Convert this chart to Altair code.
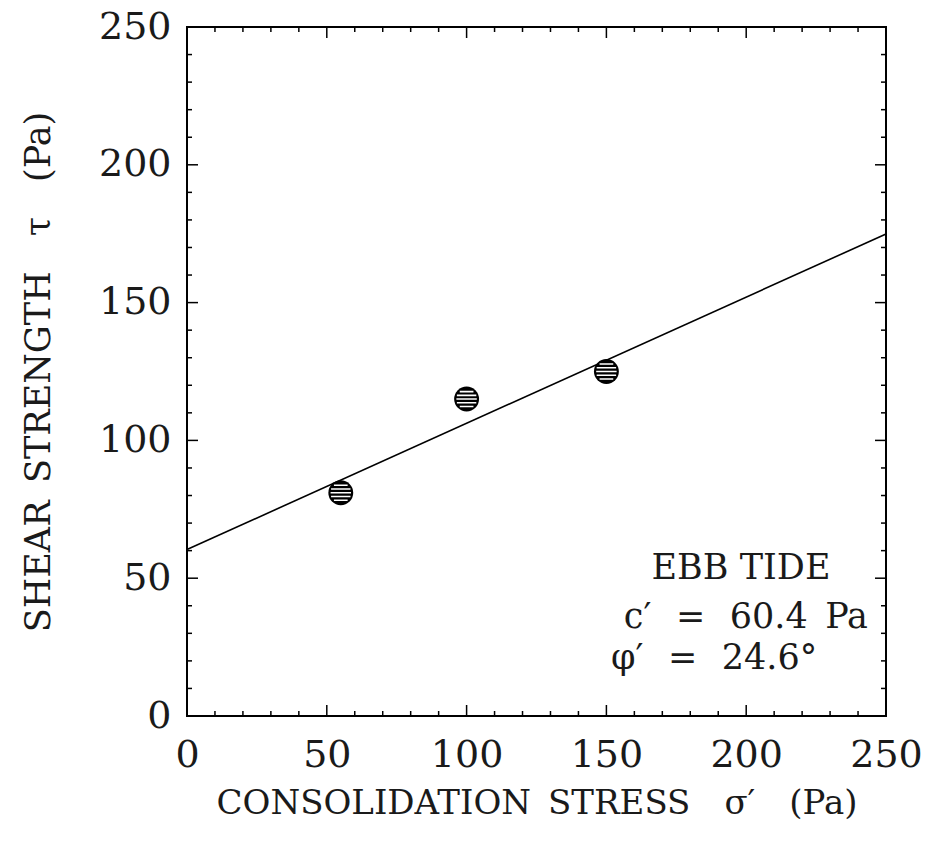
import altair as alt
import pandas as pd

# data
pt_x = [55, 100, 150]
pt_y = [81, 115, 125]
line_x = [0, 250]
line_y = [60.4, 174.9]
major_ticks = [0, 50, 100, 150, 200, 250]
minor_ticks = [10, 20, 30, 40, 60, 70, 80, 90, 110, 120, 130, 140,
               160, 170, 180, 190, 210, 220, 230, 240]
SP = "\u2002\u2009"
annot_lines = ["EBB TIDE",
               "c\u2032" + SP + "=" + SP + "60.4\u2002Pa",
               "\u03c6\u2032" + SP + "=" + SP + "24.6\u00b0"]

W, H = 699, 689
FONT = "DejaVu Serif"
TXT = "#1a1a1a"

xs = alt.Scale(domain=[0, 250], nice=False, zero=False)
ys = alt.Scale(domain=[0, 250], nice=False, zero=False)

pts = pd.DataFrame({"x": pt_x, "y": pt_y})
ln = pd.DataFrame({"x": line_x, "y": line_y})
ticks = pd.DataFrame(
    {"v": major_ticks + minor_ticks,
     "len": [11] * len(major_ticks) + [5] * len(minor_ticks)}
)

x_axis = alt.Axis(values=major_ticks, ticks=False, domain=False, grid=False,
                  labelFont=FONT, labelFontSize=38, labelColor=TXT,
                  labelFlush=False, labelBound=False,
                  labelPadding=20,
                  title="CONSOLIDATION\u2002STRESS\u2003\u03c3\u2032\u2003(Pa)",
                  titleFont=FONT, titleFontSize=34, titleFontWeight="normal",
                  titleColor=TXT, titlePadding=12)
y_axis = alt.Axis(values=major_ticks, ticks=False, domain=False, grid=False,
                  labelFont=FONT, labelFontSize=38, labelColor=TXT,
                  labelFlush=False, labelBound=False,
                  labelPadding=16,
                  title="SHEAR\u2002STRENGTH\u2003\u03c4\u2003(Pa)",
                  titleFont=FONT, titleFontSize=35, titleFontWeight="normal",
                  titleColor=TXT, titlePadding=42)

line = alt.Chart(ln).mark_line(color="black", strokeWidth=1.6).encode(
    x=alt.X("x:Q", scale=xs, axis=x_axis),
    y=alt.Y("y:Q", scale=ys, axis=y_axis),
)

dots = alt.Chart(pts).mark_point(shape="circle", filled=True, color="black",
                                 size=620, opacity=1).encode(
    x=alt.X("x:Q", scale=xs), y=alt.Y("y:Q", scale=ys))

hatch_path = ("M -0.55 -0.6 L 0.55 -0.6 M -0.78 -0.3 L 0.78 -0.3 "
              "M -0.82 0 L 0.82 0 M -0.78 0.3 L 0.78 0.3 M -0.55 0.6 L 0.55 0.6")
hatch = alt.Chart(pts).mark_point(shape=hatch_path, filled=False, color="white",
                                  strokeWidth=1.6, size=620, opacity=1).encode(
    x=alt.X("x:Q", scale=xs), y=alt.Y("y:Q", scale=ys))


def side_ticks(lenval):
    d = ticks[ticks["len"] == lenval]
    b = alt.Chart(d)
    bottom = b.mark_rule(color="black", strokeWidth=1.5).encode(
        x=alt.X("v:Q", scale=xs), y=alt.value(H), y2=alt.value(H - lenval))
    top = b.mark_rule(color="black", strokeWidth=1.5).encode(
        x=alt.X("v:Q", scale=xs), y=alt.value(0), y2=alt.value(lenval))
    left = b.mark_rule(color="black", strokeWidth=1.5).encode(
        y=alt.Y("v:Q", scale=ys), x=alt.value(0), x2=alt.value(lenval))
    right = b.mark_rule(color="black", strokeWidth=1.5).encode(
        y=alt.Y("v:Q", scale=ys), x=alt.value(W), x2=alt.value(W - lenval))
    return [bottom, top, left, right]


tick_layers = side_ticks(11) + side_ticks(5)

annot = pd.DataFrame({"t": annot_lines})
t1 = alt.Chart(annot.iloc[[0]]).mark_text(font=FONT, fontSize=35, align="center",
                                           baseline="middle", color=TXT).encode(
    text="t:N", x=alt.value(554), y=alt.value(541))
t2 = alt.Chart(annot.iloc[[1]]).mark_text(font=FONT, fontSize=35, align="right",
                                           baseline="middle", color=TXT).encode(
    text="t:N", x=alt.value(681), y=alt.value(590))
t3 = alt.Chart(annot.iloc[[2]]).mark_text(font=FONT, fontSize=35, align="left",
                                           baseline="middle", color=TXT).encode(
    text="t:N", x=alt.value(424), y=alt.value(631))

chart = alt.layer(line, *tick_layers, dots, hatch, t1, t2, t3).properties(
    width=W, height=H,
    autosize=alt.AutoSizeParams(type="none"),
    padding={"left": 187, "top": 27, "right": 43, "bottom": 144},
    background="white",
).configure_view(stroke="black", strokeWidth=2)

chart.save("out.html", embed_options={"renderer": "svg", "actions": False})
